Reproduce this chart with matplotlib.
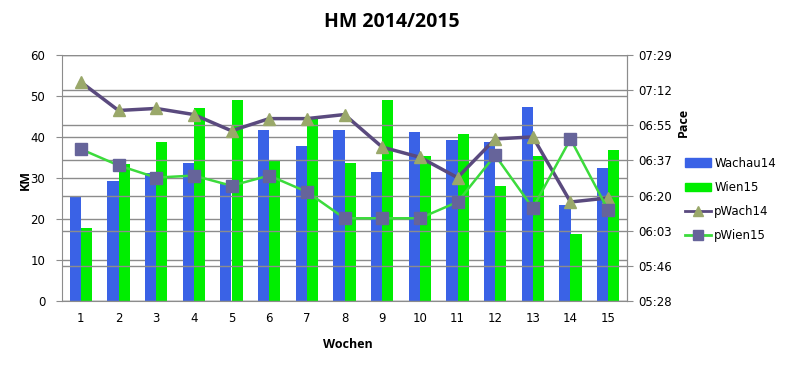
import matplotlib
matplotlib.use("Agg")
import matplotlib.pyplot as plt
import numpy as np
from matplotlib.patches import Patch
from matplotlib.lines import Line2D

weeks = list(range(1, 16))
wachau14 = [25.6, 29.3, 31.2, 33.7, 28.8, 41.7, 37.8, 41.7, 31.5, 41.2, 39.3, 38.8, 47.3, 23.4, 32.4]
wien15 = [17.8, 33.4, 38.8, 47.1, 49.0, 34.4, 44.9, 33.6, 49.0, 35.4, 40.7, 28.0, 35.4, 16.3, 36.8]
pwach14 = ["7:16", "7:02", "7:03", "7:00", "6:52", "6:58", "6:58", "7:00", "6:44", "6:39",
           "6:29", "6:48", "6:49", "6:17", "6:19"]
pwien15 = ["6:43", "6:35", "6:29", "6:30", "6:25", "6:30", "6:22", "6:09", "6:09", "6:09",
           "6:17", "6:40", "6:14", "6:48", "6:13"]
pace_ticks = ["05:28", "05:46", "06:03", "06:20", "06:37", "06:55", "07:12", "07:29"]


def to_units(s):
    m, sec = s.split(":")
    return int(m) * 60 + int(sec)


pw14 = [to_units(s) for s in pwach14]
pw15 = [to_units(s) for s in pwien15]

# Excel time axis: 0.228 .. 0.312 days, step 0.012 days (in h:mm units -> here m:ss)
rmin, rmax, rstep = 0.228 * 1440, 0.312 * 1440, 0.012 * 1440
rticks = [rmin + i * rstep for i in range(len(pace_ticks))]

c_blue = "#3A62E6"
c_green = "#00EE00"
c_line1 = "#5A4A7E"
c_tri = "#9AA86A"
c_line2 = "#3CDB3C"
c_sq = "#66649A"
gridc = "#8C8C8C"

fig = plt.figure(figsize=(7.85, 3.68), dpi=100)
ax = fig.add_axes([62 / 785, 1 - 301 / 368, (627 - 62) / 785, (301 - 55) / 368])
x = np.array(weeks)
w = 0.30
ax.bar(x - w / 2, wachau14, w, color=c_blue, zorder=2)
ax.bar(x + w / 2, wien15, w, color=c_green, zorder=2)
ax.set_xlim(0.5, 15.5)
ax.set_ylim(0, 60)
ax.set_yticks(range(0, 61, 10))
ax.yaxis.grid(True, color=gridc, lw=1)
ax.set_axisbelow(True)
ax.set_xticks(weeks)
ax.tick_params(axis="x", length=0, pad=8, labelsize=8.5)
ax.tick_params(axis="y", length=4, color=gridc, labelsize=8.5, pad=8)
ax.spines["top"].set_visible(False)
for s in ["left", "bottom", "right"]:
    ax.spines[s].set_color(gridc)

ax2 = ax.twinx()
ax2.set_ylim(rmin, rmax)
ax2.set_yticks(rticks)
ax2.set_yticklabels(pace_ticks)
ax2.yaxis.grid(True, color=gridc, lw=1, zorder=0)
ax2.tick_params(axis="y", length=4, color=gridc, labelsize=8.5, pad=4)
for s in ["top", "left", "bottom"]:
    ax2.spines[s].set_visible(False)
ax2.spines["right"].set_color(gridc)
ax2.plot(x, pw14, color=c_line1, lw=2.5, marker="^", ms=8, mfc=c_tri, mec=c_tri, zorder=4)
ax2.plot(x, pw15, color=c_line2, lw=1.8, marker="s", ms=8, mfc=c_sq, mec=c_sq, zorder=4)

fig.text(392 / 785, 1 - 22 / 368, "HM 2014/2015", ha="center", va="center",
         fontsize=14, fontweight="bold", family="Open Sans")
fig.text(25 / 785, 1 - 180 / 368, "KM", ha="center", va="center", rotation=90,
         fontsize=9, fontweight="bold", family="Open Sans")
fig.text(683 / 785, 1 - 122 / 368, "Pace", ha="center", va="center", rotation=90,
         fontsize=9, fontweight="bold", family="Open Sans")
fig.text(348 / 785, 1 - 345 / 368, "Wochen", ha="center", va="center",
         fontsize=9, fontweight="bold", family="Open Sans")

handles = [Patch(color=c_blue), Patch(color=c_green),
           Line2D([], [], color=c_line1, lw=2, marker="^", ms=7, mfc=c_tri, mec=c_tri),
           Line2D([], [], color=c_line2, lw=2, marker="s", ms=7, mfc=c_sq, mec=c_sq)]
labels = ["Wachau14", "Wien15", "pWach14", "pWien15"]
fig.legend(handles, labels, loc="upper left", bbox_to_anchor=(680 / 785, 1 - 152 / 368),
           frameon=False, fontsize=8.5, handlelength=2.2, labelspacing=0.95,
           handletextpad=0.3, borderaxespad=0)

fig.savefig("out.png", dpi=100)
